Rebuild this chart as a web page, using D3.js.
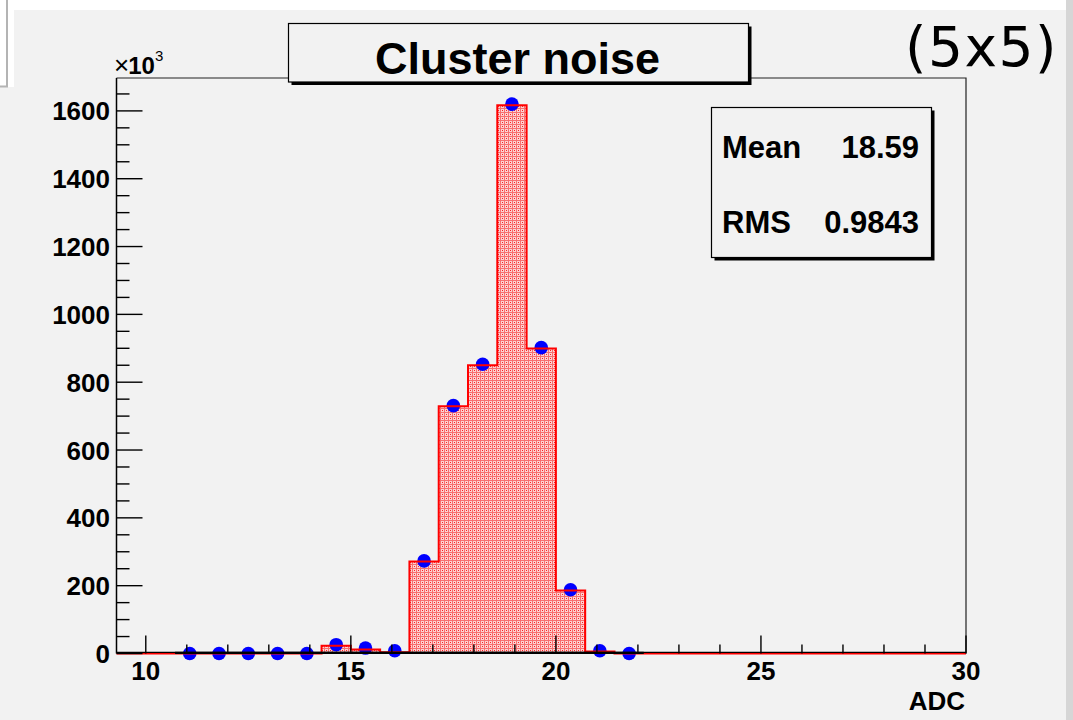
<!DOCTYPE html>
<html>
<head>
<meta charset="utf-8">
<script src="https://cdn.jsdelivr.net/npm/d3@7"></script>
<style>
  body { margin: 0; background: #fff; }
  svg { display: block; }
</style>
</head>
<body>
<svg id="c" width="1073" height="720"></svg>
<script>
// Cluster noise (5x5) — ROOT-style histogram, 42 bins over 0..30 ADC, shown from 9.286
const binEdges = [9.286, 10.000, 10.714, 11.429, 12.143, 12.857, 13.571, 14.286, 15.000, 15.714,
  16.429, 17.143, 17.857, 18.571, 19.286, 20.000, 20.714, 21.429, 22.143, 22.857,
  23.571, 24.286, 25.000, 25.714, 26.429, 27.143, 27.857, 28.571, 29.286, 30.000];
// entries per bin, in units of 10^3
const counts = [0, 0, 0, 0, 0, 0, 0, 23, 12, 4, 271, 729, 850, 1617, 899, 186, 6,
  0, 0, 0, 0, 0, 0, 0, 0, 0, 0, 0, 0];
// blue markers: bins 2..17
const markerFirstBin = 2;
const markerCounts = [0, 0, 0, 0, 0, 26, 16, 8, 273, 731, 853, 1620, 902, 188, 8, 0];

const xMajor = [10, 15, 20, 25, 30];
const xMinor = [11, 12, 13, 14, 16, 17, 18, 19, 21, 22, 23, 24, 26, 27, 28, 29];
const yMajor = [0, 200, 400, 600, 800, 1000, 1200, 1400, 1600];
const yMinor = [50, 100, 150, 250, 300, 350, 450, 500, 550, 650, 700, 750, 850, 900, 950,
  1050, 1100, 1150, 1250, 1300, 1350, 1450, 1500, 1550, 1650];

const titleText = "Cluster noise";
const stats = [["Mean", "18.59"], ["RMS", "0.9843"]];
const cornerText = "(5x5)";
const xTitle = "ADC";

const F = "'Liberation Sans', Arial, Helvetica, sans-serif";
const BG = "#f2f2f2";

const svg = d3.select("#c");
const x = d3.scaleLinear().domain([binEdges[0], 30]).range([116.5, 966]);
const y = d3.scaleLinear().domain([0, 1697]).range([653.5, 78]);

// window background
svg.append("rect").attr("x", 14).attr("y", 10).attr("width", 1052).attr("height", 710).attr("fill", BG);
svg.append("rect").attr("x", 0).attr("y", 87).attr("width", 14).attr("height", 633).attr("fill", BG);
svg.append("path").attr("d", "M7,0V86.5H0").attr("fill", "none").attr("stroke", "#b4b4b4").attr("stroke-width", 2);
svg.append("rect").attr("x", 1066).attr("y", 0).attr("width", 7).attr("height", 720).attr("fill", "#d6d6d6");

// fill pattern (ROOT dotted fill)
const defs = svg.append("defs");
const pat = defs.append("pattern").attr("id", "dots").attr("patternUnits", "userSpaceOnUse")
  .attr("width", 4).attr("height", 4);
pat.append("rect").attr("width", 4).attr("height", 4).attr("fill", "#fcd2d2");
pat.append("rect").attr("x", 0).attr("y", 0).attr("width", 4).attr("height", 1).attr("fill", "#f77070");
pat.append("rect").attr("x", 0).attr("y", 0).attr("width", 1).attr("height", 4).attr("fill", "#f77070");
pat.append("rect").attr("x", 2).attr("y", 2).attr("width", 1).attr("height", 1).attr("fill", "#ff2020");

const steps = counts.map((c, i) => [binEdges[i], c]).concat([[binEdges[binEdges.length - 1], counts[counts.length - 1]]]);
svg.append("path")
  .attr("d", d3.area().x(d => x(d[0])).y0(y(0)).y1(d => y(d[1])).curve(d3.curveStepAfter)(steps))
  .attr("fill", "url(#dots)");

// frame
svg.append("path")
  .attr("d", `M${x.range()[0]},${y.range()[1]}H${x.range()[1]}V${y.range()[0]}`)
  .attr("fill", "none").attr("stroke", "#222").attr("stroke-width", 1.2);

// blue markers
svg.append("g").selectAll("circle").data(markerCounts).join("circle")
  .attr("cx", (d, i) => x((binEdges[i + markerFirstBin] + binEdges[i + markerFirstBin + 1]) / 2))
  .attr("cy", d => y(d))
  .attr("r", 6.8)
  .attr("fill", "#0000ff");

// red outline
svg.append("path")
  .attr("d", d3.line().x(d => x(d[0])).y(d => y(d[1])).curve(d3.curveStepAfter)(steps))
  .attr("fill", "none").attr("stroke", "#ff0000").attr("stroke-width", 2);

// axes lines
svg.append("line").attr("x1", x.range()[0]).attr("x2", x.range()[1])
  .attr("y1", y(0) - 1.2).attr("y2", y(0) - 1.2).attr("stroke", "#000").attr("stroke-width", 1.2);
svg.append("line")
  .attr("x1", x(binEdges[markerFirstBin])).attr("x2", x(binEdges[markerFirstBin + markerCounts.length]))
  .attr("y1", y(0) - 0.6).attr("y2", y(0) - 0.6).attr("stroke", "#000").attr("stroke-width", 2.4);
svg.append("line").attr("x1", x.range()[0]).attr("x2", x.range()[0])
  .attr("y1", y.range()[1]).attr("y2", y.range()[0]).attr("stroke", "#000").attr("stroke-width", 1.5);

// x ticks
const gx = svg.append("g");
xMajor.forEach(v => gx.append("line").attr("x1", x(v)).attr("x2", x(v))
  .attr("y1", y(0)).attr("y2", y(0) - 18).attr("stroke", "#000").attr("stroke-width", 1.4));
xMinor.forEach(v => gx.append("line").attr("x1", x(v)).attr("x2", x(v))
  .attr("y1", y(0)).attr("y2", y(0) - 9).attr("stroke", "#000").attr("stroke-width", 1.4));
xMajor.forEach(v => gx.append("text").attr("x", x(v)).attr("y", 680)
  .attr("text-anchor", "middle")
  .attr("style", `font:bold 26px ${F};fill:#000`).text(v));

// y ticks
const gy = svg.append("g");
yMajor.forEach(v => gy.append("line").attr("x1", x.range()[0]).attr("x2", x.range()[0] + 26)
  .attr("y1", y(v)).attr("y2", y(v)).attr("stroke", "#000").attr("stroke-width", 1.4));
yMinor.forEach(v => gy.append("line").attr("x1", x.range()[0]).attr("x2", x.range()[0] + 13)
  .attr("y1", y(v)).attr("y2", y(v)).attr("stroke", "#000").attr("stroke-width", 1.4));
yMajor.forEach(v => gy.append("text").attr("x", 110).attr("y", y(v) + 9.5)
  .attr("text-anchor", "end")
  .attr("style", `font:bold 26px ${F};fill:#000`).text(v));

// x10^3 multiplier
const mult = svg.append("text").attr("x", 114).attr("y", 73.5).attr("style", `font:24px ${F};fill:#000`);
mult.append("tspan").attr("font-size", "26px").text("\u00d7");
mult.append("tspan").attr("font-weight", "bold").attr("dx", -1).text("10");
mult.append("tspan").attr("font-size", "15px").attr("dy", -13).text("3");

// axis title
svg.append("text").attr("x", 965).attr("y", 710).attr("text-anchor", "end")
  .attr("style", `font:bold 26px ${F};fill:#000`).text(xTitle);

// boxes with shadow
function box(x0, y0, w, h) {
  svg.append("rect").attr("x", x0 + 3).attr("y", y0 + 3).attr("width", w).attr("height", h).attr("fill", "#000");
  svg.append("rect").attr("x", x0).attr("y", y0).attr("width", w).attr("height", h)
    .attr("fill", BG).attr("stroke", "#000").attr("stroke-width", 1.2);
}
box(288.5, 23.5, 460, 58.5);
svg.append("text").attr("x", 517.5).attr("y", 73.5).attr("text-anchor", "middle")
  .attr("style", `font:bold 45px ${F};fill:#000`).text(titleText);

box(711.5, 107.5, 220, 150);
stats.forEach((s, i) => {
  const by = 157.5 + i * 75.5;
  svg.append("text").attr("x", 722).attr("y", by)
    .attr("style", `font:bold 31px ${F};fill:#000`).text(s[0]);
  svg.append("text").attr("x", 919).attr("y", by).attr("text-anchor", "end")
    .attr("style", `font:bold 31px ${F};fill:#000`).text(s[1]);
});

// corner label
svg.append("text").attr("x", 1058).attr("y", 66).attr("text-anchor", "end")
  .attr("style", "font:55px 'DejaVu Sans', Verdana, sans-serif;fill:#000;letter-spacing:1.5px").text(cornerText);
</script>
</body>
</html>
